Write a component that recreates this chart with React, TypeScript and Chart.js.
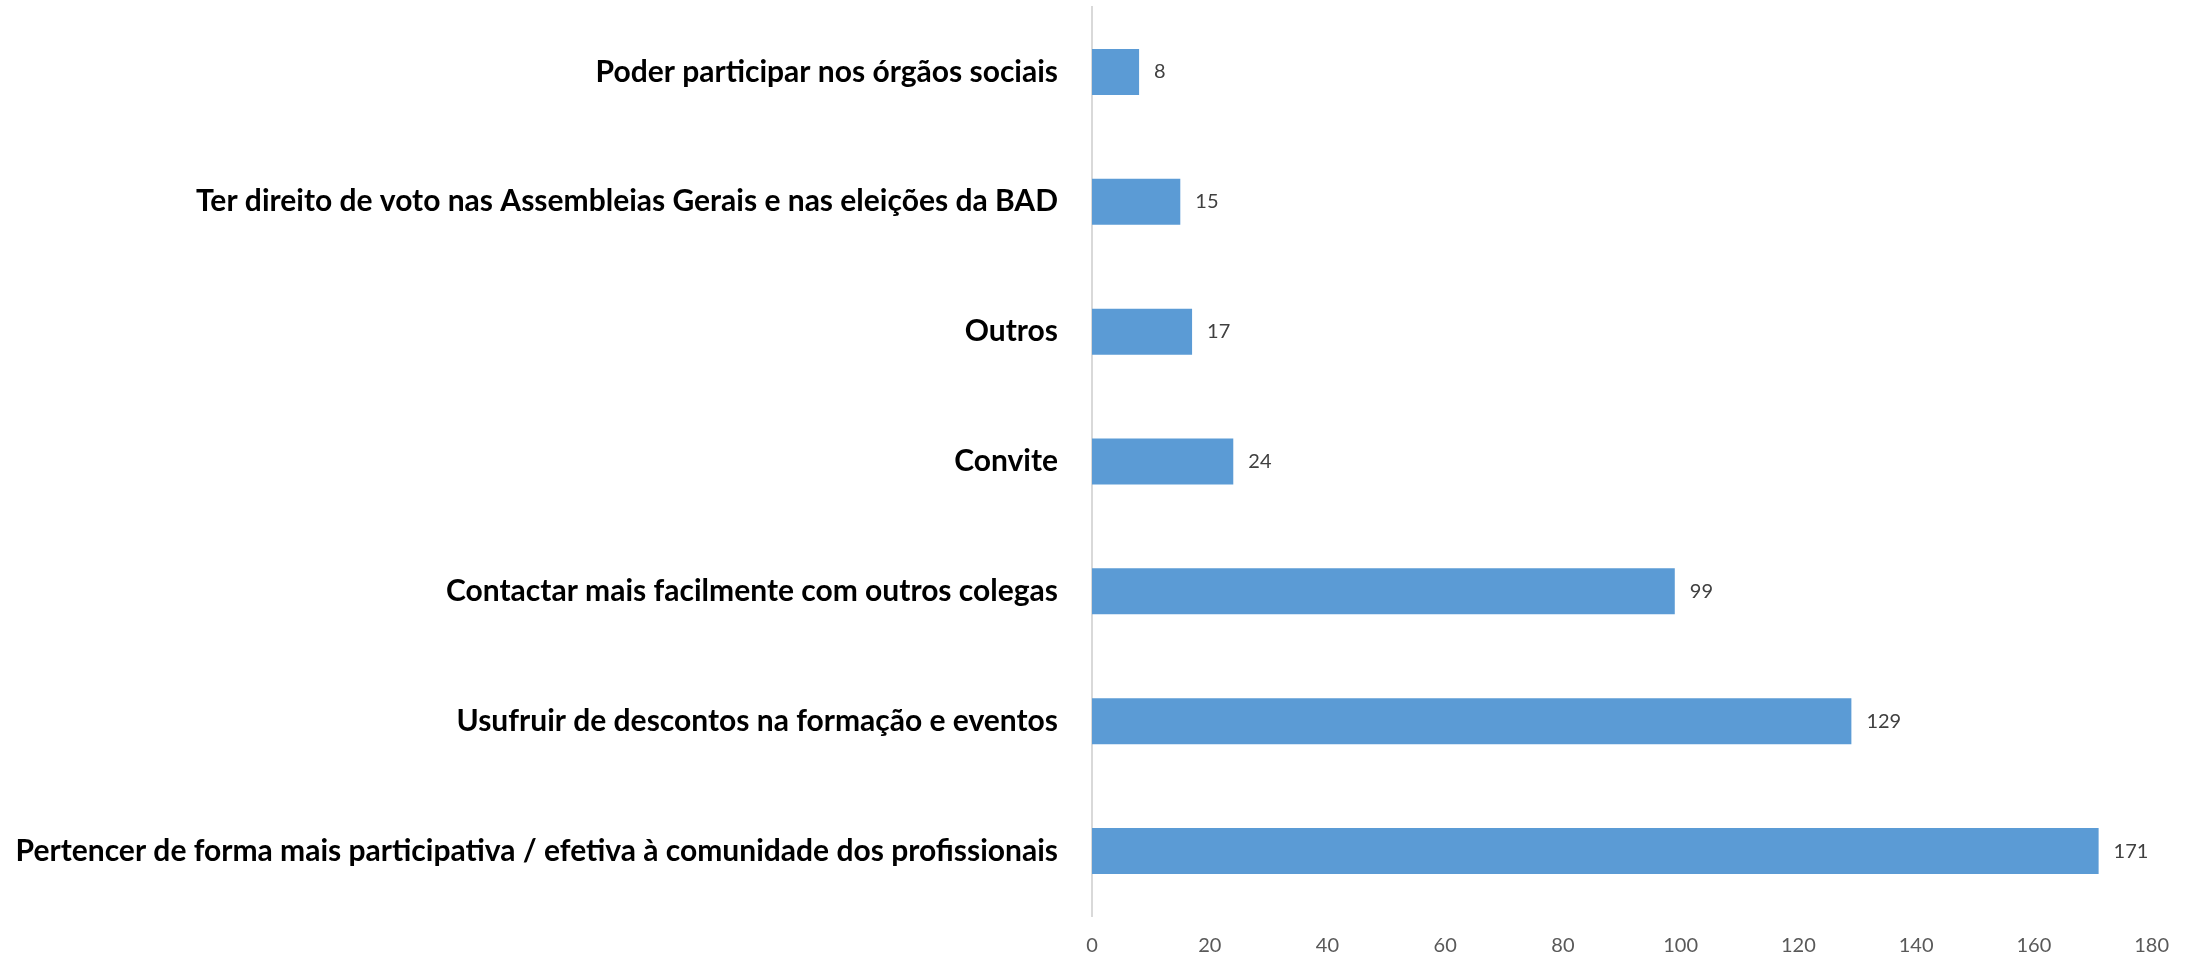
import React, { useEffect, useRef } from "react";
import { Chart, registerables } from "chart.js";

Chart.register(...registerables);

const categories: string[] = [
  "Poder participar nos órgãos sociais",
  "Ter direito de voto nas Assembleias Gerais e nas eleições da BAD",
  "Outros",
  "Convite",
  "Contactar mais facilmente com outros colegas",
  "Usufruir de descontos na formação e eventos",
  "Pertencer de forma mais participativa / efetiva à comunidade dos profissionais",
];
const values: number[] = [8, 15, 17, 24, 99, 129, 171];
const xMin = 0;
const xMax = 180;
const xStep = 20;

const FONT = "Lato";

const valueLabels = {
  id: "valueLabels",
  afterDatasetsDraw(chart: any) {
    const ctx = chart.ctx;
    const meta = chart.getDatasetMeta(0);
    ctx.save();
    ctx.font = `20px ${FONT}`;
    ctx.fillStyle = "#404040";
    ctx.textAlign = "left";
    ctx.textBaseline = "middle";
    meta.data.forEach((bar: any, i: number) => {
      ctx.fillText(String(values[i]), bar.x + 15, bar.y);
    });
    ctx.restore();
  },
};

export default function App() {
  const ref = useRef<HTMLCanvasElement>(null);
  useEffect(() => {
    document.body.style.margin = "0";
    const chart = new Chart(ref.current!, {
      type: "bar",
      data: {
        labels: categories,
        datasets: [
          {
            data: values,
            backgroundColor: "#5B9BD5",
            borderWidth: 0,
            categoryPercentage: 1,
            barPercentage: 0.354,
          },
        ],
      },
      options: {
        indexAxis: "y",
        responsive: false,
        animation: false,
        layout: { padding: { top: 7, right: 34, left: 0, bottom: 0 } },
        plugins: { legend: { display: false }, tooltip: { enabled: false } },
        scales: {
          x: {
            min: xMin,
            max: xMax,
            ticks: { stepSize: xStep, color: "#595959", font: { family: FONT, size: 20 }, padding: 18 },
            grid: { display: false, drawTicks: false },
            border: { display: false },
            afterFit: (s: any) => {
              s.height = 43;
            },
          },
          y: {
            ticks: { color: "#000000", font: { family: FONT, size: 30, weight: "bold" }, padding: 34 },
            grid: { display: false, drawTicks: false },
            border: { display: true, color: "#D9D9D9", width: 2 },
            afterFit: (s: any) => {
              s.width = 1092;
              s.paddingTop = 0;
              s.paddingBottom = 0;
            },
          },
        },
      },
      plugins: [valueLabels],
    });
    return () => chart.destroy();
  }, []);
  return <canvas ref={ref} width={2187} height={959} style={{ display: "block" }} />;
}
